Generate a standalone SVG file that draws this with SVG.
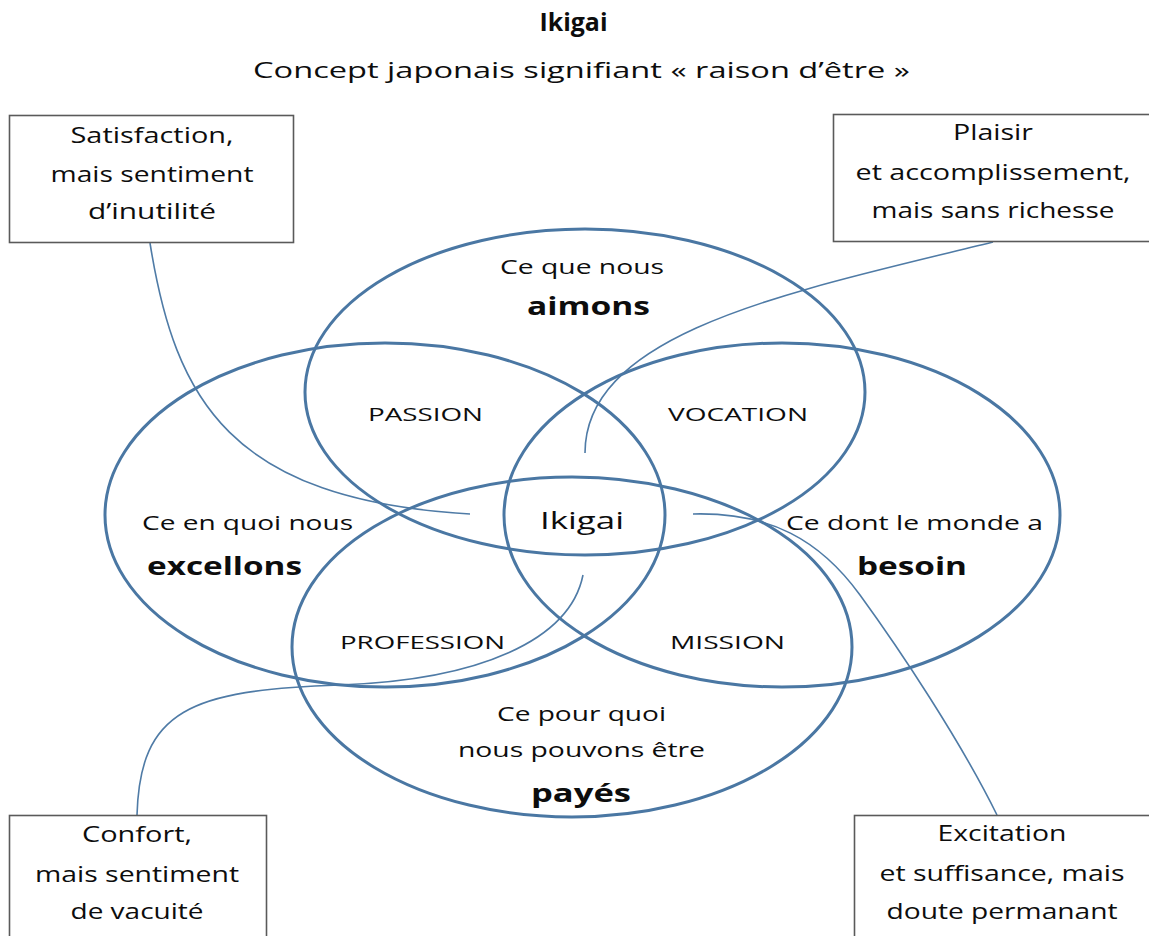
<svg xmlns="http://www.w3.org/2000/svg" width="1149" height="936" viewBox="0 0 1149 936">
  <style>
    text { font-family: "Open Sans", "Liberation Sans", sans-serif; fill: #0d0d0d; text-anchor: middle; }
    .title { font-size: 25px; font-weight: bold; }
    .sub { font-size: 21px; }
    .box { fill: #ffffff; stroke: #5a5a5a; stroke-width: 1.6; }
    .bt { font-size: 21px; }
    .circle { fill: none; stroke: #4a77a3; stroke-width: 3; }
    .desc { font-size: 20px; }
    .big { font-size: 25px; font-weight: bold; }
    .cap { font-size: 19px; }
    .conn { fill: none; stroke: #4f7ba6; stroke-width: 1.6; }
  </style>
  <rect width="1149" height="936" fill="#ffffff"/>

  <g id="title">
    <text class="title" x="573.5" y="31" textLength="68" lengthAdjust="spacingAndGlyphs">Ikigai</text>
    <text class="sub" x="581.5" y="78" textLength="657" lengthAdjust="spacingAndGlyphs">Concept japonais signifiant « raison d’être »</text>
  </g>

  <g id="connectors">
    <path class="conn" d="M150,243 C175,400 230,500 470,514"/>
    <path class="conn" d="M993,242 C800,290 585,330 585,453"/>
    <path class="conn" d="M583,575 C570,640 480,680 340,685 C190,690 140,710 137,815"/>
    <path class="conn" d="M693,514 C770,512 820,540 860,595 C900,650 960,740 997,815"/>
  </g>

  <g id="circle-aimons">
    <ellipse class="circle" cx="585" cy="392" rx="280" ry="163"/>
    <text class="desc" x="582" y="274" textLength="164" lengthAdjust="spacingAndGlyphs">Ce que nous</text>
    <text class="big" x="588.5" y="315" textLength="123" lengthAdjust="spacingAndGlyphs">aimons</text>
  </g>
  <g id="circle-excellons">
    <ellipse class="circle" cx="385" cy="515" rx="280" ry="172"/>
    <text class="desc" x="247.5" y="530" textLength="211" lengthAdjust="spacingAndGlyphs">Ce en quoi nous</text>
    <text class="big" x="224.5" y="575" textLength="155" lengthAdjust="spacingAndGlyphs">excellons</text>
  </g>
  <g id="circle-besoin">
    <ellipse class="circle" cx="782" cy="515" rx="278" ry="172"/>
    <text class="desc" x="914.5" y="530" textLength="257" lengthAdjust="spacingAndGlyphs">Ce dont le monde a</text>
    <text class="big" x="912" y="575" textLength="110" lengthAdjust="spacingAndGlyphs">besoin</text>
  </g>
  <g id="circle-payes">
    <ellipse class="circle" cx="572" cy="647" rx="280" ry="170"/>
    <text class="desc" x="581.5" y="721" textLength="169" lengthAdjust="spacingAndGlyphs">Ce pour quoi</text>
    <text class="desc" x="581.5" y="757" textLength="247" lengthAdjust="spacingAndGlyphs">nous pouvons être</text>
    <text class="big" x="581" y="802" textLength="100" lengthAdjust="spacingAndGlyphs">payés</text>
  </g>

  <g id="passion"><text class="cap" x="425.5" y="421" textLength="115" lengthAdjust="spacingAndGlyphs">PASSION</text></g>
  <g id="vocation"><text class="cap" x="738" y="421" textLength="140" lengthAdjust="spacingAndGlyphs">VOCATION</text></g>
  <g id="profession"><text class="cap" x="422.5" y="649" textLength="165" lengthAdjust="spacingAndGlyphs">PROFESSION</text></g>
  <g id="mission"><text class="cap" x="727.5" y="649" textLength="115" lengthAdjust="spacingAndGlyphs">MISSION</text></g>
  <g id="ikigai"><text style="font-size:24px" x="582" y="529" textLength="84" lengthAdjust="spacingAndGlyphs">Ikigai</text></g>

  <g id="box-tl">
    <rect class="box" x="9.5" y="115.5" width="284" height="127"/>
    <text class="bt" x="152" y="143" textLength="163" lengthAdjust="spacingAndGlyphs">Satisfaction,</text>
    <text class="bt" x="152" y="182" textLength="203" lengthAdjust="spacingAndGlyphs">mais sentiment</text>
    <text class="bt" x="152" y="219" textLength="128" lengthAdjust="spacingAndGlyphs">d’inutilité</text>
  </g>
  <g id="box-tr">
    <rect class="box" x="833.5" y="114.5" width="330" height="127"/>
    <text class="bt" x="993" y="140" textLength="80" lengthAdjust="spacingAndGlyphs">Plaisir</text>
    <text class="bt" x="993" y="180" textLength="275" lengthAdjust="spacingAndGlyphs">et accomplissement,</text>
    <text class="bt" x="993" y="218" textLength="243" lengthAdjust="spacingAndGlyphs">mais sans richesse</text>
  </g>
  <g id="box-bl">
    <rect class="box" x="9.5" y="815.5" width="257" height="140"/>
    <text class="bt" x="137" y="842" textLength="110" lengthAdjust="spacingAndGlyphs">Confort,</text>
    <text class="bt" x="137" y="882" textLength="204" lengthAdjust="spacingAndGlyphs">mais sentiment</text>
    <text class="bt" x="137" y="919" textLength="133" lengthAdjust="spacingAndGlyphs">de vacuité</text>
  </g>
  <g id="box-br">
    <rect class="box" x="854.5" y="815.5" width="310" height="140"/>
    <text class="bt" x="1002" y="841" textLength="129" lengthAdjust="spacingAndGlyphs">Excitation</text>
    <text class="bt" x="1002" y="881" textLength="245" lengthAdjust="spacingAndGlyphs">et suffisance, mais</text>
    <text class="bt" x="1002" y="919" textLength="231" lengthAdjust="spacingAndGlyphs">doute permanant</text>
  </g>
</svg>
